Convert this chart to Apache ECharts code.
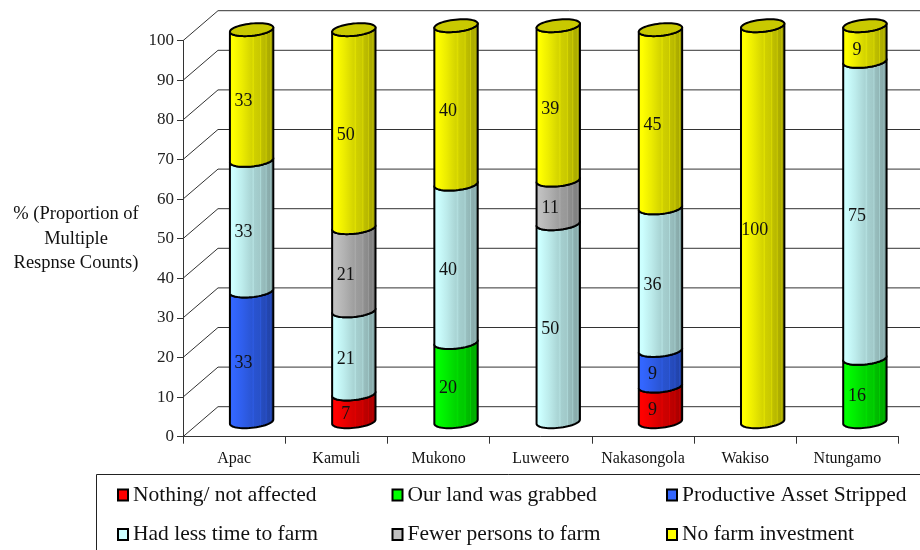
<!DOCTYPE html>
<html>
<head>
<meta charset="utf-8">
<style>html,body{margin:0;padding:0;background:#fff}#chart{width:920px;height:550px}</style>
<script src="https://cdn.jsdelivr.net/npm/echarts@6/dist/echarts.min.js"></script>
</head>
<body>
<div id="chart"></div>
<script>
const districts = ['Apac', 'Kamuli', 'Mukono', 'Luweero', 'Nakasongola', 'Wakiso', 'Ntungamo'];
const yTicks = [0, 10, 20, 30, 40, 50, 60, 70, 80, 90, 100];

const nothingAffected = [0, 7, 0, 0, 9, 0, 0];
const landGrabbed = [0, 0, 20, 0, 0, 0, 16];
const assetStripped = [33, 0, 0, 0, 9, 0, 0];
const lessTime = [33, 21, 40, 50, 36, 0, 75];
const fewerPersons = [0, 21, 0, 11, 0, 0, 0];
const noInvestment = [33, 50, 40, 39, 45, 100, 9];

const stackOrder = [
  { name: 'Nothing/ not affected', values: nothingAffected, rgb: [255, 0, 0] },
  { name: 'Our land was grabbed', values: landGrabbed, rgb: [0, 255, 0] },
  { name: 'Productive Asset Stripped', values: assetStripped, rgb: [51, 102, 255] },
  { name: 'Had less time to farm', values: lessTime, rgb: [204, 255, 255] },
  { name: 'Fewer persons to farm', values: fewerPersons, rgb: [192, 192, 192] },
  { name: 'No farm investment', values: noInvestment, rgb: [255, 255, 0] }
];

// Oblique projection of the chart box: the back wall sits up and to the right of the front axes.
const DEPTH_X = 35;
const DEPTH_Y = -30;
const RADIUS_X = 21.8;
const RADIUS_Y = 6.1;
const TILT = -6 * Math.PI / 180;
const SILHOUETTE = Math.atan2(-RADIUS_Y * Math.sin(TILT), RADIUS_X * Math.cos(TILT));

const FONT = '"Liberation Serif"';

function shade(rgb, f) {
  return 'rgb(' + rgb.map(c => Math.round(c * f)).join(',') + ')';
}

// Horizontal shading round the barrel, with the fine pale bands on its dark side.
function barrelFill(rgb) {
  const stops = [
    [0, 1], [0.1, 1], [0.3, 0.92], [0.5, 0.83], [0.54, 0.88], [0.56, 0.81], [0.68, 0.79],
    [0.7, 0.86], [0.72, 0.75], [0.8, 0.72], [0.82, 0.81], [0.84, 0.69], [0.9, 0.67],
    [0.92, 0.75], [0.94, 0.62], [1, 0.58]
  ];
  return {
    type: 'linear', x: 0, y: 0, x2: 1, y2: 0,
    colorStops: stops.map(s => ({ offset: s[0], color: shade(rgb, s[1]) }))
  };
}

// Half of the tilted ring, from the right silhouette edge under to the left one.
function frontArc(cx, cy) {
  const pts = [];
  for (let i = 0; i <= 28; i++) {
    const t = SILHOUETTE + Math.PI * i / 28;
    pts.push([
      cx + RADIUS_X * Math.cos(t) * Math.cos(TILT) - RADIUS_Y * Math.sin(t) * Math.sin(TILT),
      cy + RADIUS_X * Math.cos(t) * Math.sin(TILT) + RADIUS_Y * Math.sin(t) * Math.cos(TILT)
    ]);
  }
  return pts;
}

function fullRing(cx, cy) {
  const pts = [];
  for (let i = 0; i < 56; i++) {
    const t = 2 * Math.PI * i / 56;
    pts.push([
      cx + RADIUS_X * Math.cos(t) * Math.cos(TILT) - RADIUS_Y * Math.sin(t) * Math.sin(TILT),
      cy + RADIUS_X * Math.cos(t) * Math.sin(TILT) + RADIUS_Y * Math.sin(t) * Math.cos(TILT)
    ]);
  }
  return pts;
}

const columnTotals = districts.map((_, i) => stackOrder.reduce((sum, s) => sum + s.values[i], 0));

function segmentSeries(entry, order) {
  const rows = [];
  entry.values.forEach((v, i) => {
    if (v > 0) {
      const base = stackOrder.slice(0, order).reduce((sum, s) => sum + s.values[i], 0);
      rows.push([i, base, base + v, v]);
    }
  });
  return {
    type: 'custom',
    name: entry.name,
    z: 5 + order,
    itemStyle: { color: shade(entry.rgb, 1), borderColor: '#000', borderWidth: 2 },
    data: rows,
    encode: { x: 0, y: [1, 2] },
    renderItem(params, api) {
      const cat = api.value(0), from = api.value(1), to = api.value(2), val = api.value(3);
      const low = api.coord([cat, from]);
      const high = api.coord([cat, to]);
      const cx = low[0] + DEPTH_X / 2;
      const yLow = low[1] + DEPTH_Y / 2;
      const yHigh = high[1] + DEPTH_Y / 2;
      const outline = frontArc(cx, yLow).concat(frontArc(cx, yHigh).reverse());
      const children = [{
        type: 'polygon',
        shape: { points: outline },
        style: { fill: barrelFill(entry.rgb), stroke: '#000', lineWidth: 2, lineJoin: 'round' }
      }];
      if (to === columnTotals[cat]) {
        children.push({
          type: 'polygon',
          shape: { points: fullRing(cx, yHigh) },
          style: { fill: shade(entry.rgb, 0.79), stroke: '#000', lineWidth: 2 }
        });
      }
      children.push({
        type: 'text',
        z2: 10,
        style: {
          x: cx - 8,
          y: (yLow + yHigh) / 2 + 6.5,
          text: String(val),
          fill: '#111',
          font: '18px ' + FONT,
          align: 'center',
          verticalAlign: 'middle'
        }
      });
      return { type: 'group', children };
    }
  };
}

// Diagonal wall ties from each y tick and the back-wall rules they lead to.
const wallSeries = {
  type: 'custom',
  name: 'wall',
  silent: true,
  z: 1,
  data: yTicks.map(t => [0, t]),
  encode: { x: 0, y: 1 },
  renderItem(params, api) {
    const p = api.coord([0, api.value(1)]);
    const left = p[0] - api.size([1, 0])[0] / 2;
    const right = left + params.coordSys.width;
    return {
      type: 'polyline',
      shape: { points: [[left, p[1]], [left + DEPTH_X, p[1] + DEPTH_Y], [right + DEPTH_X, p[1] + DEPTH_Y]] },
      style: { fill: null, stroke: '#333', lineWidth: 1 }
    };
  }
};

function legendColumn(left, names) {
  return {
    orient: 'vertical',
    left,
    top: 484,
    padding: 0,
    itemGap: 17.5,
    itemWidth: 10,
    itemHeight: 11,
    icon: 'rect',
    selectedMode: false,
    data: names,
    textStyle: { fontFamily: FONT, fontSize: 21.5, color: '#111' }
  };
}

const chart = echarts.init(document.getElementById('chart'));
chart.setOption({
  animation: false,
  backgroundColor: '#fff',
  grid: { left: 183, right: 21.5, top: 40.7, bottom: 113.3 },
  xAxis: {
    type: 'category',
    data: districts,
    axisLine: { lineStyle: { color: '#333', width: 1 } },
    axisTick: { show: true, interval: 0, alignWithLabel: false, length: 7, lineStyle: { color: '#333' } },
    axisLabel: { interval: 0, fontFamily: FONT, fontSize: 16, color: '#111', margin: 14 },
    splitLine: { show: false }
  },
  yAxis: {
    type: 'value',
    min: 0,
    max: 100,
    interval: 10,
    name: '% (Proportion of\nMultiple\nRespnse Counts)',
    nameLocation: 'middle',
    nameRotate: 0,
    nameGap: 107,
    nameTextStyle: { fontFamily: FONT, fontSize: 18.5, color: '#111', lineHeight: 24.5, align: 'center', padding: [4, 0, 0, 0] },
    axisLine: { show: true, lineStyle: { color: '#333', width: 1 } },
    axisTick: { show: true, length: 6, lineStyle: { color: '#333' } },
    axisLabel: { fontFamily: FONT, fontSize: 17, color: '#222', margin: 9 },
    splitLine: { show: false }
  },
  legend: [
    legendColumn(117, [stackOrder[0].name, stackOrder[3].name]),
    legendColumn(391.5, [stackOrder[1].name, stackOrder[4].name]),
    legendColumn(666, [stackOrder[2].name, stackOrder[5].name])
  ],
  graphic: [{
    type: 'polyline',
    silent: true,
    shape: { points: [[96.5, 560], [96.5, 474.5], [930, 474.5]] },
    style: { fill: null, stroke: '#222', lineWidth: 1 }
  }],
  series: [wallSeries].concat(stackOrder.map(segmentSeries))
});
</script>
</body>
</html>
